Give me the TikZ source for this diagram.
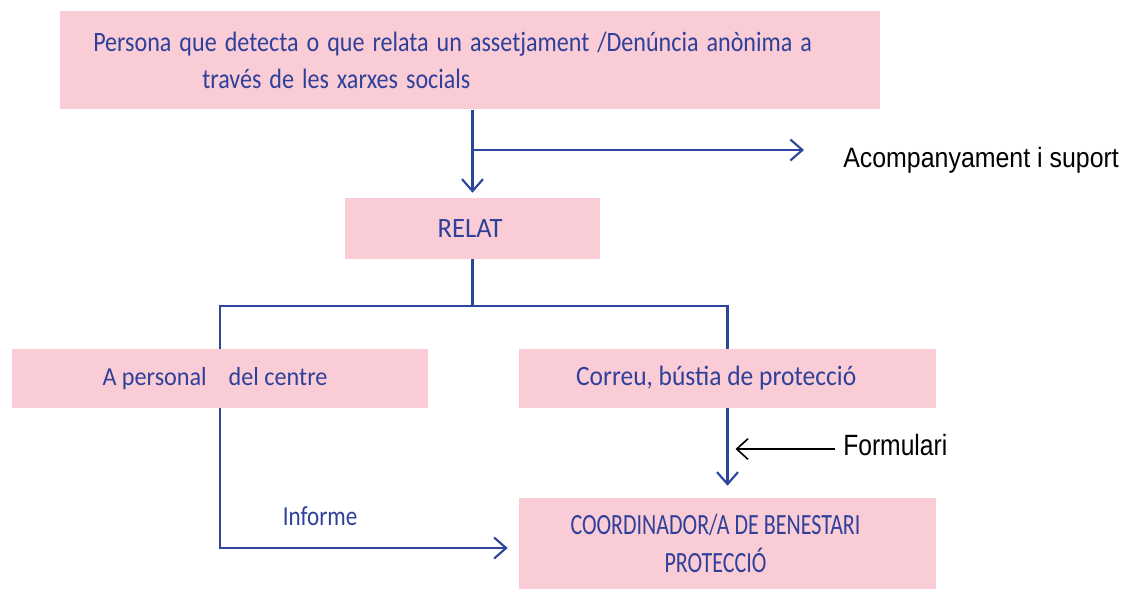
\documentclass[tikz,border=0pt]{standalone}
\usepackage{fontspec}
\setmainfont{Carlito}
\usetikzlibrary{arrows.meta}
\definecolor{boxpink}{RGB}{249,204,214}
\definecolor{lineblue}{RGB}{44,70,158}
\definecolor{textblue}{RGB}{46,64,154}
\newcommand\cfont[3]{\fontspec{Carlito}[FakeStretch=#2]\fontsize{#1}{#3}\selectfont}
\newcommand\afont[2]{\fontspec{Liberation Sans}[FakeStretch=#2]\fontsize{#1}{#1}\selectfont}
\newcommand\tightsp{\spaceskip=6pt\relax}
\begin{document}
\begin{tikzpicture}[x=0.75pt,y=-0.75pt,
  box/.style={fill=boxpink, draw=none, inner sep=0pt, text=textblue},
  conn/.style={draw=lineblue, line width=1.6pt},
  arr/.style={conn, -{Straight Barb[length=9pt,width=15.75pt,line width=1.6pt]}},
  blackarr/.style={draw=black, line width=1.2pt, -{Straight Barb[length=8.5pt,width=15.5pt,line width=1.2pt]}},
  side/.style={text=black, inner sep=0pt},
  lbl/.style={text=textblue, inner sep=0pt}]
\useasboundingbox (0,0) rectangle (1126,590);
% boxes
\node[box, anchor=north west, minimum width=615pt, minimum height=73.5pt,
      inner xsep=24.75pt, text width=565.5pt, align=left, font=\cfont{21}{0.86}{27.75pt}] (top) at (60,11)
  {\tightsp Persona que detecta o que relata un assetjament /Denúncia anònima a\\\hspace*{81.75pt}través de les xarxes socials};
\node[box, minimum width=191.25pt, minimum height=45.75pt, font=\cfont{21}{0.95}{24pt}] (relat) at (472.5,228.5) {RELAT\hspace*{3.5pt}};
\node[box, minimum width=312pt, minimum height=44.25pt, font=\cfont{19.5}{0.93}{24pt}] (left) at (220,378.5)
  {A personal\hspace{16.5pt}del centre\hspace*{7.5pt}};
\node[box, minimum width=312.75pt, minimum height=44.25pt, font=\cfont{21}{0.91}{24pt}] (right) at (727.5,378.5)
  {Correu, bústia de protecció\hspace*{17pt}};
\node[box, minimum width=312.75pt, minimum height=68.25pt, align=center, font=\cfont{22}{0.75}{28.5pt}] (coord) at (727.5,543.5)
  {COORDINADOR/A DE BENESTARI\hspace*{18pt}\\PROTECCIÓ\hspace*{18pt}};
% side labels
\node[side, anchor=base west, font=\afont{21}{0.89}] (acomp) at (843,167) {Acompanyament i suport};
\node[side, anchor=base west, font=\afont{22}{0.84}] (form) at (843,455) {Formulari};
\node[lbl, font=\cfont{20.6}{0.84}{24pt}] (inf) at (320,516) {Informe};
% connectors
\coordinate (br) at (472.5,150);
\coordinate (brend) at (804,150);
\coordinate (split) at (472.5,306);
\draw[arr, shorten >=3.75pt] (relat.north |- top.south) -- (relat.north);
\draw[arr] (br) -- (brend);
\draw[conn] (relat.south) -- (split);
\draw[conn] (left.north) |- (split) -| (right.north);
\draw[arr, shorten >=8.25pt] (left.south) |- ([yshift=-3.4pt]coord.west);
\draw[arr, shorten >=9pt] (right.south) -- (coord.north);
\path (right.south) ++(8,0) coordinate (fx);
\coordinate (fend) at (fx |- 0,449);
\draw[blackarr] (form.west |- fend) ++(-8,0) coordinate (fstart) -- (fend);
\end{tikzpicture}
\end{document}
